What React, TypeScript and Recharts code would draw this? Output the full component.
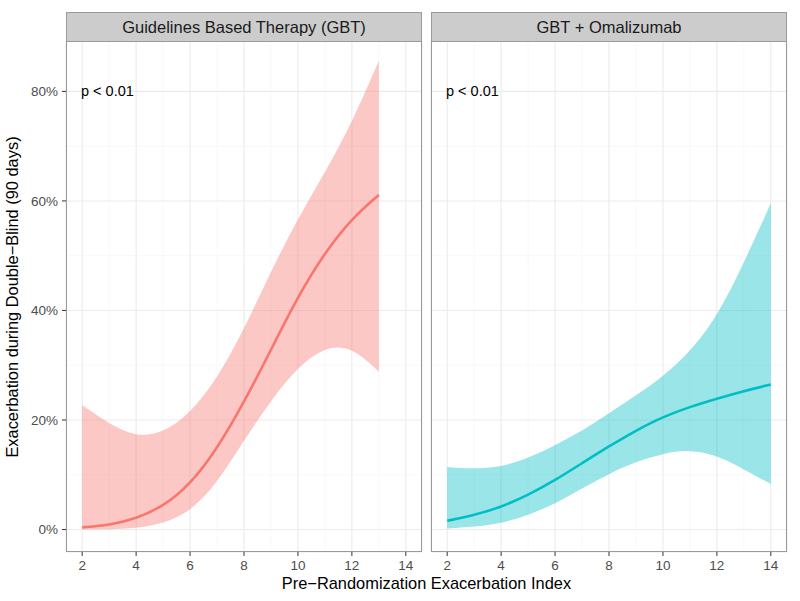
import React from "react";
import { ComposedChart, Area, Line, XAxis, YAxis, CartesianGrid } from "recharts";

// GBT panel
const gbtX = [2, 3, 4, 5, 6, 7, 8, 9, 10, 11, 12, 13];
const gbtFit = [0.004, 0.008, 0.02, 0.042, 0.082, 0.147, 0.232, 0.328, 0.426, 0.506, 0.568, 0.611];
const gbtLower = [0.0, 0.0005, 0.002, 0.011, 0.032, 0.084, 0.163, 0.236, 0.297, 0.334, 0.334, 0.288];
const gbtUpper = [0.227, 0.193, 0.169, 0.176, 0.212, 0.275, 0.365, 0.472, 0.568, 0.652, 0.742, 0.856];

// GBT + Omalizumab panel
const omaX = [2, 3, 4, 5, 6, 7, 8, 9, 10, 11, 12, 13, 14];
const omaFit = [0.016, 0.026, 0.041, 0.063, 0.09, 0.121, 0.152, 0.181, 0.206, 0.224, 0.239, 0.253, 0.265];
const omaLower = [0.002, 0.005, 0.011, 0.026, 0.047, 0.075, 0.102, 0.124, 0.139, 0.146, 0.136, 0.11, 0.083];
const omaUpper = [0.114, 0.111, 0.114, 0.13, 0.154, 0.18, 0.212, 0.245, 0.279, 0.324, 0.388, 0.486, 0.596];

const xTicks = [2, 4, 6, 8, 10, 12, 14];
const xMinor = [3, 5, 7, 9, 11, 13];
const yTicks = [0, 0.2, 0.4, 0.6, 0.8];
const yMinor = [0.1, 0.3, 0.5, 0.7];

const FONT = "'Liberation Sans', Arial, Helvetica, sans-serif";
const TOP = 41;
const BOTTOM = 552;

function rows(xs: number[], fit: number[], lo: number[], hi: number[]) {
  return xs.map((x, i) => ({ x, fit: fit[i], band: [lo[i], hi[i]] }));
}

type PanelProps = {
  data: { x: number; fit: number; band: number[] }[];
  color: string;
  title: string;
  left: number;
  width: number;
  showY: boolean;
};

function Panel({ data, color, title, left, width, showY }: PanelProps) {
  const yw = showY ? 56 : 0;
  const ml = showY ? 66 - left - yw : 8;
  const mr = 8;
  const plotLeft = left + (showY ? 66 - left : 8);
  const plotW = width - (plotLeft - left) - mr;
  return (
    <>
      <div style={{ position: "absolute", left, top: 0 }}>
        <ComposedChart
          width={width}
          height={601}
          data={data}
          margin={{ top: TOP, right: mr, bottom: 601 - BOTTOM - 24, left: ml }}
        >
          <CartesianGrid stroke="#F3F3F3" strokeWidth={0.6} verticalValues={xMinor} horizontalValues={yMinor} />
          <CartesianGrid stroke="#EBEBEB" strokeWidth={1.1} />
          <XAxis
            dataKey="x"
            type="number"
            domain={[1.4, 14.6]}
            ticks={xTicks}
            allowDataOverflow
            axisLine={false}
            tickSize={4}
            tickMargin={4}
            height={24}
            tickLine={{ stroke: "#333333" }}
            tick={{ fill: "#4D4D4D", fontSize: 13.5, fontFamily: FONT }}
          />
          <YAxis
            type="number"
            domain={[-0.041, 0.892]}
            ticks={yTicks}
            allowDataOverflow
            hide={!showY}
            width={yw}
            axisLine={false}
            tickSize={4}
            tickMargin={4}
            tickLine={{ stroke: "#333333" }}
            tick={{ fill: "#4D4D4D", fontSize: 13.5, fontFamily: FONT }}
            tickFormatter={(v: number) => `${Math.round(v * 100)}%`}
          />
          <Area
            dataKey="band"
            type="basis"
            stroke="none"
            fill={color}
            fillOpacity={0.4}
            isAnimationActive={false}
            dot={false}
            activeDot={false}
          />
          <Line
            dataKey="fit"
            type="basis"
            stroke={color}
            strokeWidth={2.6}
            dot={false}
            activeDot={false}
            isAnimationActive={false}
          />
        </ComposedChart>
      </div>
      <div
        style={{
          position: "absolute",
          left: plotLeft,
          top: TOP,
          width: plotW,
          height: BOTTOM - TOP,
          boxSizing: "border-box",
          border: "1px solid #9A9A9A",
          pointerEvents: "none",
        }}
      />
      <div
        style={{
          position: "absolute",
          left: plotLeft,
          top: 12,
          width: plotW,
          height: TOP - 12 + 1,
          boxSizing: "border-box",
          border: "1px solid #9A9A9A",
          background: "#CCCCCC",
          color: "#1A1A1A",
          fontFamily: FONT,
          fontSize: 16.5,
          lineHeight: `${TOP - 12 - 1}px`,
          textAlign: "center",
        }}
      >
        {title}
      </div>
      <div
        style={{
          position: "absolute",
          left: plotLeft + 15,
          top: 83,
          fontFamily: FONT,
          fontSize: 14.5,
          lineHeight: "17px",
          color: "#000",
        }}
      >
        p &lt; 0.01
      </div>
    </>
  );
}

export default function App() {
  return (
    <div style={{ position: "absolute", left: 0, top: 0, width: 800, height: 601, background: "#fff", overflow: "hidden" }}>
      <Panel
        data={rows(gbtX, gbtFit, gbtLower, gbtUpper)}
        color="#F8766D"
        title="Guidelines Based Therapy (GBT)"
        left={0}
        width={430}
        showY
      />
      <Panel
        data={rows(omaX, omaFit, omaLower, omaUpper)}
        color="#00BFC4"
        title="GBT + Omalizumab"
        left={423}
        width={372}
        showY={false}
      />
      <div
        style={{
          position: "absolute",
          left: 11 - 255.5,
          top: 296.5 - 9,
          width: 511,
          height: 18,
          lineHeight: "18px",
          transform: "rotate(-90deg)",
          textAlign: "center",
          fontFamily: FONT,
          fontSize: 16.4,
          color: "#000",
          whiteSpace: "nowrap",
        }}
      >
        Exacerbation during Double−Blind (90 days)
      </div>
      <div
        style={{
          position: "absolute",
          left: 66,
          top: 574,
          width: 721,
          lineHeight: "18px",
          textAlign: "center",
          fontFamily: FONT,
          fontSize: 16.4,
          color: "#000",
          whiteSpace: "nowrap",
        }}
      >
        Pre−Randomization Exacerbation Index
      </div>
    </div>
  );
}
